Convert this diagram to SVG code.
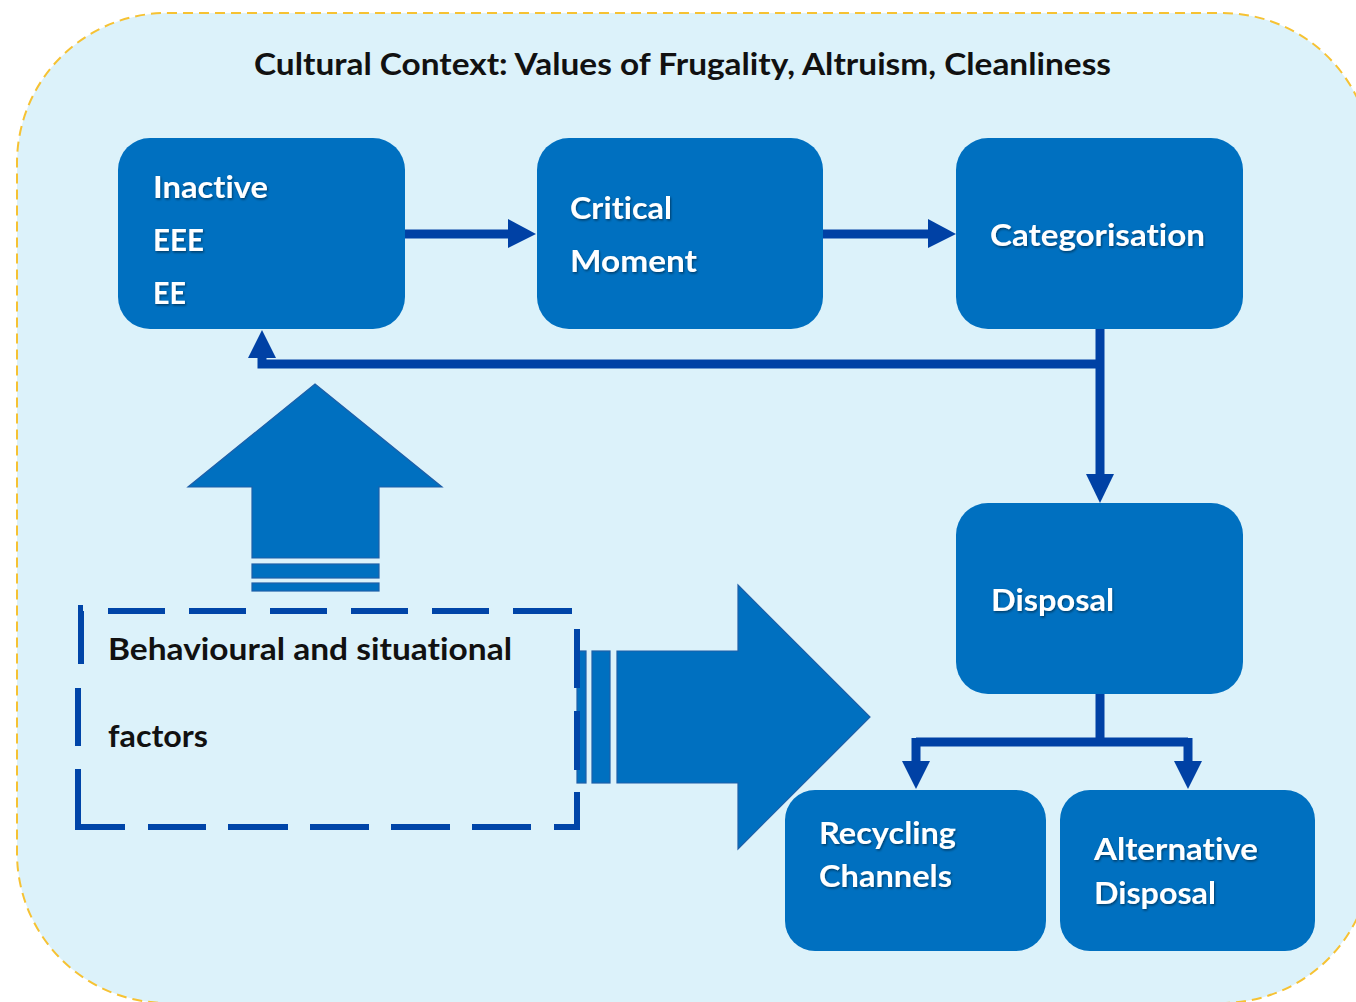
<svg xmlns="http://www.w3.org/2000/svg" width="1356" height="1002" viewBox="0 0 1356 1002">
<defs>
<style>
.node{fill:#0070c0;}
.lbl{font-family:Lato,"Open Sans","DejaVu Sans",sans-serif;font-weight:700;font-size:31px;fill:#ffffff;font-variant-ligatures:none;font-feature-settings:"liga" 0,"clig" 0,"dlig" 0;}
.dark{font-family:Lato,"Open Sans","DejaVu Sans",sans-serif;font-weight:700;font-size:31px;fill:#111111;font-variant-ligatures:none;font-feature-settings:"liga" 0,"clig" 0,"dlig" 0;}
.conn{fill:none;stroke:#0041a5;stroke-width:9;}
.head{fill:#0041a5;}
.big{fill:#0070c0;stroke:#1d5fa8;stroke-width:1.2;}
.dash{stroke:#0045a8;stroke-width:6;fill:none;}
</style>
<filter id="sh" x="-10%" y="-20%" width="130%" height="150%">
<feDropShadow dx="1" dy="1.5" stdDeviation="1" flood-color="#000" flood-opacity="0.45"/>
</filter>
</defs>

<g id="background">
<rect x="17" y="13" width="1355" height="990" rx="150" ry="150" fill="#dcf2fa" stroke="#f6c233" stroke-width="2" stroke-dasharray="10 6"/>
<text class="dark" x="254" y="75" textLength="857" lengthAdjust="spacingAndGlyphs">Cultural Context: Values of Frugality, Altruism, Cleanliness</text>
</g>

<g id="connectors">
<path class="conn" d="M405 234 H510"/>
<polygon class="head" points="508,219 536,234 508,248"/>
<path class="conn" d="M823 234 H930"/>
<polygon class="head" points="928,219 956,234 928,248"/>
<path class="conn" d="M1100 329 V476"/>
<polygon class="head" points="1086,474 1114,474 1100,503"/>
<path class="conn" d="M1100 364 H262 V356"/>
<polygon class="head" points="248,358 276,358 262,330"/>
<path class="conn" d="M1100 694 V742 M916 742 H1188 M916 738 V763 M1188 738 V763"/>
<polygon class="head" points="902,761 930,761 916,789"/>
<polygon class="head" points="1174,761 1202,761 1188,789"/>
</g>

<g id="node-inactive">
<rect class="node" x="118" y="138" width="287" height="191" rx="32"/>
<g filter="url(#sh)">
<text class="lbl" x="153" y="198" textLength="115" lengthAdjust="spacingAndGlyphs">Inac<tspan>t</tspan>ive</text>
<text class="lbl" x="153" y="251" textLength="51" lengthAdjust="spacingAndGlyphs">EEE</text>
<text class="lbl" x="153" y="304" textLength="33" lengthAdjust="spacingAndGlyphs">EE</text>
</g>
</g>

<g id="node-critical">
<rect class="node" x="537" y="138" width="286" height="191" rx="32"/>
<g filter="url(#sh)">
<text class="lbl" x="570" y="219" textLength="102" lengthAdjust="spacingAndGlyphs">Cri<tspan>t</tspan>ical</text>
<text class="lbl" x="570" y="272" textLength="127" lengthAdjust="spacingAndGlyphs">Moment</text>
</g>
</g>

<g id="node-categorisation">
<rect class="node" x="956" y="138" width="287" height="191" rx="32"/>
<text class="lbl" filter="url(#sh)" x="990" y="246" textLength="215" lengthAdjust="spacingAndGlyphs">Categorisa<tspan>t</tspan>ion</text>
</g>

<g id="node-disposal">
<rect class="node" x="956" y="503" width="287" height="191" rx="32"/>
<text class="lbl" filter="url(#sh)" x="991" y="611" textLength="123" lengthAdjust="spacingAndGlyphs">Disposal</text>
</g>

<g id="node-recycling">
<rect class="node" x="785" y="790" width="261" height="161" rx="30"/>
<g filter="url(#sh)">
<text class="lbl" x="819" y="844" textLength="137" lengthAdjust="spacingAndGlyphs">Recycling</text>
<text class="lbl" x="819" y="887" textLength="133" lengthAdjust="spacingAndGlyphs">Channels</text>
</g>
</g>

<g id="node-alternative">
<rect class="node" x="1060" y="790" width="255" height="161" rx="30"/>
<g filter="url(#sh)">
<text class="lbl" x="1094" y="860" textLength="164" lengthAdjust="spacingAndGlyphs">Alterna<tspan>t</tspan>ive</text>
<text class="lbl" x="1094" y="904" textLength="122" lengthAdjust="spacingAndGlyphs">Disposal</text>
</g>
</g>

<g id="up-arrow">
<polygon class="big" points="315,384 442,487 379,487 379,558 252,558 252,487 188,487"/>
<rect class="big" x="252" y="564" width="127" height="14"/>
<rect class="big" x="252" y="583" width="127" height="8"/>
</g>

<g id="right-arrow">
<polygon class="big" points="617,651 738,651 738,585 870,717 738,849 738,783 617,783"/>
<rect class="big" x="592" y="651" width="18" height="132"/>
<rect class="big" x="577" y="651" width="9" height="132"/>
</g>

<g id="node-factors">
<path class="dash" d="M108 611 H165 M189 611 H246 M270 611 H327 M351 611 H408 M432 611 H489 M513 611 H572"/>
<path class="dash" d="M81 611 V664 M78 608 H83 M78 688 V746 M78 769 V827 H125"/>
<path class="dash" d="M148 827 H206 M228 827 H288 M310 827 H369 M391 827 H450 M472 827 H531 M554 827 H577 V792"/>
<path class="dash" d="M577 629 V688 M577 711 V770"/>
<text class="dark" x="108" y="660" textLength="404" lengthAdjust="spacingAndGlyphs">Behavioural and situa<tspan>t</tspan>ional</text>
<text class="dark" x="108" y="747" textLength="100" lengthAdjust="spacingAndGlyphs">factors</text>
</g>
</svg>
